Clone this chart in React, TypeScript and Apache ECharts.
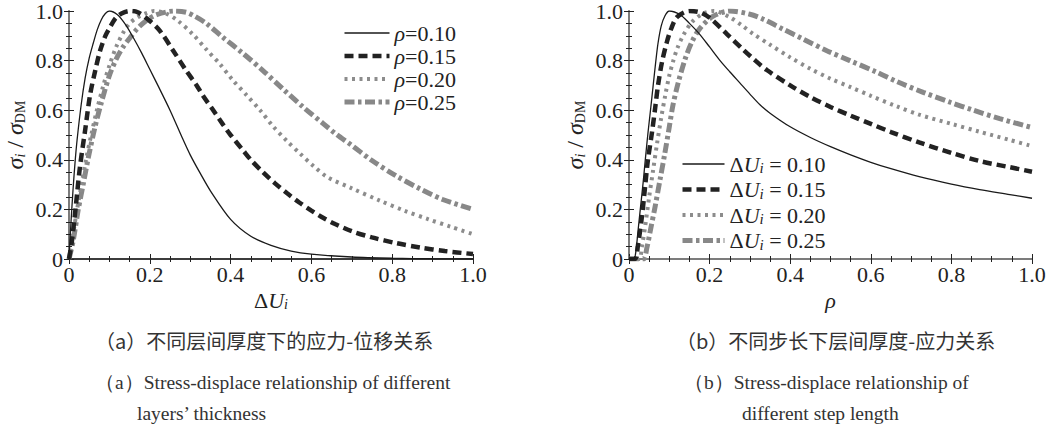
import React, { useEffect, useRef } from 'react';
import * as echarts from 'echarts';

// ---------- data ----------
const rhoValues = ['0.10', '0.15', '0.20', '0.25'];
const duValues = ['0.10', '0.15', '0.20', '0.25'];
const xTicks = [0, 0.2, 0.4, 0.6, 0.8, 1.0];

// (a) stress vs displacement ΔU_i, for different ρ
const aRho10: [number, number][] = [
  [0, 0], [0.005, 0.15], [0.01, 0.28], [0.015, 0.39], [0.02, 0.48], [0.03, 0.62], [0.04, 0.73],
  [0.05, 0.81], [0.06, 0.87], [0.07, 0.925], [0.08, 0.965], [0.09, 0.99], [0.1, 1.0], [0.12, 0.985],
  [0.14, 0.945], [0.16, 0.89], [0.18, 0.83], [0.2, 0.765], [0.22, 0.7], [0.25, 0.6], [0.28, 0.49],
  [0.3, 0.42], [0.325, 0.345], [0.35, 0.275], [0.4, 0.16], [0.45, 0.092], [0.5, 0.055], [0.55, 0.032],
  [0.6, 0.02], [0.7, 0.008], [0.8, 0.003], [0.9, 0.001], [1.0, 0],
];
const aRho15: [number, number][] = [
  [0, 0], [0.007, 0.07], [0.016, 0.2], [0.027, 0.37], [0.04, 0.52], [0.052, 0.66], [0.065, 0.76],
  [0.077, 0.84], [0.09, 0.9], [0.1, 0.93], [0.115, 0.97], [0.13, 0.99], [0.15, 1.0], [0.17, 0.995],
  [0.2, 0.96], [0.225, 0.92], [0.258, 0.84], [0.29, 0.76], [0.316, 0.7], [0.333, 0.655], [0.357, 0.6],
  [0.38, 0.545], [0.4, 0.5], [0.43, 0.44], [0.45, 0.4], [0.48, 0.35], [0.51, 0.305], [0.54, 0.265],
  [0.57, 0.228], [0.6, 0.195], [0.63, 0.165], [0.66, 0.14], [0.7, 0.112], [0.75, 0.087], [0.81, 0.064],
  [0.87, 0.046], [0.93, 0.032], [1.0, 0.02],
];
const aRho20: [number, number][] = [
  [0, 0], [0.01, 0.1], [0.02, 0.2], [0.03, 0.29], [0.042, 0.4], [0.055, 0.5], [0.069, 0.6],
  [0.085, 0.7], [0.1, 0.78], [0.118, 0.86], [0.135, 0.915], [0.15, 0.95], [0.17, 0.975], [0.19, 0.99],
  [0.21, 1.0], [0.24, 0.99], [0.27, 0.96], [0.307, 0.905], [0.34, 0.845], [0.374, 0.785], [0.406, 0.72],
  [0.44, 0.66], [0.473, 0.6], [0.505, 0.535], [0.54, 0.475], [0.572, 0.425], [0.605, 0.375],
  [0.64, 0.33], [0.7, 0.285], [0.77, 0.235], [0.83, 0.195], [0.89, 0.16], [0.945, 0.13], [1.0, 0.1],
];
const aRho25: [number, number][] = [
  [0, 0], [0.01, 0.07], [0.023, 0.2], [0.035, 0.3], [0.048, 0.41], [0.064, 0.53], [0.08, 0.63],
  [0.1, 0.74], [0.118, 0.81], [0.134, 0.855], [0.15, 0.89], [0.167, 0.925], [0.19, 0.96], [0.217, 0.985],
  [0.26, 1.0], [0.29, 0.995], [0.31, 0.98], [0.34, 0.95], [0.38, 0.895], [0.43, 0.83], [0.48, 0.76],
  [0.53, 0.685], [0.58, 0.612], [0.63, 0.545], [0.66, 0.505], [0.7, 0.458], [0.75, 0.397], [0.81, 0.335],
  [0.87, 0.282], [0.925, 0.24], [1.0, 0.2],
];

// (b) stress vs layer thickness ρ, for different step ΔU_i
const bDu10: [number, number][] = [
  [0, 0], [0.012, 0], [0.017, 0.03], [0.022, 0.107], [0.028, 0.2], [0.035, 0.307], [0.041, 0.41],
  [0.047, 0.507], [0.054, 0.61], [0.06, 0.7], [0.066, 0.79], [0.072, 0.87], [0.08, 0.94], [0.089, 0.98],
  [0.1, 1.0], [0.127, 0.985], [0.15, 0.95], [0.176, 0.905], [0.2, 0.855], [0.226, 0.8], [0.25, 0.755],
  [0.275, 0.71], [0.3, 0.665], [0.325, 0.622], [0.35, 0.588], [0.4, 0.533], [0.45, 0.49], [0.5, 0.453],
  [0.55, 0.42], [0.6, 0.39], [0.65, 0.364], [0.72, 0.332], [0.8, 0.302], [0.87, 0.28], [0.945, 0.26],
  [1.0, 0.245],
];
const bDu15: [number, number][] = [
  [0, 0], [0.015, 0], [0.022, 0.053], [0.032, 0.17], [0.04, 0.293], [0.047, 0.4], [0.057, 0.51],
  [0.065, 0.61], [0.072, 0.7], [0.082, 0.795], [0.094, 0.875], [0.105, 0.93], [0.119, 0.975], [0.15, 1.0],
  [0.175, 0.995], [0.2, 0.973], [0.243, 0.907], [0.283, 0.845], [0.31, 0.805], [0.342, 0.762], [0.4, 0.7],
  [0.45, 0.653], [0.5, 0.613], [0.55, 0.578], [0.6, 0.545], [0.65, 0.512], [0.72, 0.47], [0.8, 0.428],
  [0.87, 0.395], [0.945, 0.37], [1.0, 0.352],
];
const bDu20: [number, number][] = [
  [0, 0], [0.025, 0], [0.032, 0.05], [0.04, 0.13], [0.05, 0.25], [0.06, 0.36], [0.07, 0.47],
  [0.08, 0.57], [0.09, 0.66], [0.1, 0.74], [0.11, 0.8], [0.12, 0.85], [0.134, 0.9], [0.156, 0.955],
  [0.184, 0.99], [0.21, 1.0], [0.25, 0.975], [0.28, 0.942], [0.308, 0.908], [0.35, 0.864], [0.4, 0.813],
  [0.45, 0.767], [0.5, 0.727], [0.55, 0.693], [0.6, 0.658], [0.665, 0.615], [0.72, 0.582], [0.8, 0.545],
  [0.87, 0.513], [0.945, 0.48], [1.0, 0.455],
];
const bDu25: [number, number][] = [
  [0, 0], [0.035, 0], [0.045, 0.05], [0.052, 0.107], [0.065, 0.213], [0.077, 0.32], [0.089, 0.427],
  [0.1, 0.533], [0.109, 0.62], [0.122, 0.71], [0.139, 0.805], [0.156, 0.875], [0.176, 0.93],
  [0.208, 0.978], [0.25, 1.0], [0.3, 0.987], [0.333, 0.967], [0.382, 0.927], [0.432, 0.887],
  [0.491, 0.84], [0.548, 0.8], [0.615, 0.753], [0.665, 0.715], [0.73, 0.672], [0.797, 0.632],
  [0.854, 0.6], [0.92, 0.566], [1.0, 0.53],
];

const captionA = ['（a）不同层间厚度下的应力-位移关系', '（a）Stress-displace relationship of different', 'layers’ thickness'];
const captionB = ['（b）不同步长下层间厚度-应力关系', '（b）Stress-displace relationship of', 'different step length'];

// ---------- styles ----------
const SERIF = "'Liberation Serif', 'DejaVu Serif', serif";
const CJK = "'Noto Sans CJK SC', sans-serif";
const TXT = '#222';
const lineStyles: any[] = [
  { color: '#1a1a1a', width: 1.3, type: 'solid' },
  { color: '#222222', width: 4.5, type: [9, 5], cap: 'butt' },
  { color: '#8c8c8c', width: 4, type: [3, 4.5], cap: 'butt' },
  { color: '#888888', width: 5, type: [10, 3.5, 3.5, 3.5], cap: 'butt' },
];

const labelFmt = (v: number) => (v === 0 ? '0' : v.toFixed(1));

const tickCommon = {
  splitLine: { show: false },
  axisTick: { inside: true, length: 5, lineStyle: { color: '#222', width: 1 } },
  minorTick: { show: true, splitNumber: 4, length: 3, lineStyle: { color: '#222', width: 1 } },
};

function xAxes(gridIndex: number, name: string, rich: any, topColor: string) {
  const common = { type: 'value', gridIndex, min: 0, max: 1, interval: 0.2, ...tickCommon };
  return [
    {
      ...common, position: 'bottom',
      axisLine: { lineStyle: { color: '#222', width: 1.6 } },
      axisLabel: { formatter: labelFmt, fontFamily: SERIF, fontSize: 22, color: TXT, margin: 4 },
      name, nameLocation: 'middle', nameGap: 25,
      nameTextStyle: { fontFamily: SERIF, fontSize: 22, color: TXT, rich },
    },
    {
      ...common, position: 'top',
      axisLine: { lineStyle: { color: topColor, width: 1.6 } },
      axisLabel: { show: false },
    },
  ];
}

function yAxes(gridIndex: number, rightColor: string) {
  const common = { type: 'value', gridIndex, min: 0, max: 1, interval: 0.2, ...tickCommon };
  const yRich = {
    it: { fontFamily: SERIF, fontStyle: 'italic', fontSize: 24, color: TXT },
    n: { fontFamily: SERIF, fontSize: 24, color: TXT },
    si: { fontFamily: SERIF, fontStyle: 'italic', fontSize: 14, color: TXT, verticalAlign: 'bottom', padding: [10, 0, 0, 0] },
    sd: { fontFamily: SERIF, fontSize: 14, color: TXT, verticalAlign: 'bottom', padding: [10, 0, 0, 0] },
  };
  return [
    {
      ...common, position: 'left',
      axisLine: { lineStyle: { color: '#222', width: 1.6 } },
      axisLabel: { formatter: labelFmt, fontFamily: SERIF, fontSize: 22, color: TXT, margin: 6 },
      name: '{it|σ}{si|i}{n| / }{it|σ}{sd|DM}', nameLocation: 'middle', nameGap: 42, nameRotate: 90,
      nameTextStyle: { fontFamily: SERIF, fontSize: 24, color: TXT, rich: yRich },
    },
    {
      ...common, position: 'right',
      axisLine: { lineStyle: { color: rightColor, width: 1.6 } },
      axisLabel: { show: false },
    },
  ];
}

const App: React.FC = () => {
  const ref = useRef<HTMLDivElement>(null);

  useEffect(() => {
    if (!ref.current) return;
    const chart = echarts.init(ref.current, undefined, { renderer: 'svg' });

    const aData = [aRho10, aRho15, aRho20, aRho25];
    const bData = [bDu10, bDu15, bDu20, bDu25];
    const aNames = rhoValues.map((v) => `ρ=${v}`);
    const bNames = duValues.map((v) => `ΔU=${v}`);

    const series: any[] = [];
    aData.forEach((d, i) => {
      series.push({
        type: 'line', name: aNames[i], xAxisIndex: 0, yAxisIndex: 0, data: d,
        symbol: 'none', showSymbol: false, smooth: 0.3, clip: true,
        color: lineStyles[i].color, lineStyle: lineStyles[i], z: 10 - i,
      });
    });
    bData.forEach((d, i) => {
      series.push({
        type: 'line', name: bNames[i], xAxisIndex: 2, yAxisIndex: 2, data: d,
        symbol: 'none', showSymbol: false, smooth: 0.3, clip: true,
        color: lineStyles[i].color, lineStyle: lineStyles[i], z: 10 - i,
      });
    });

    const legendRichA = {
      it: { fontFamily: SERIF, fontStyle: 'italic', fontSize: 22, color: TXT },
      n: { fontFamily: SERIF, fontSize: 22, color: TXT },
    };
    const legendRichB = {
      it: { fontFamily: SERIF, fontStyle: 'italic', fontSize: 22, color: TXT },
      n: { fontFamily: SERIF, fontSize: 22, color: TXT },
      sub: { fontFamily: SERIF, fontStyle: 'italic', fontSize: 15, color: TXT, verticalAlign: 'bottom', padding: [8, 0, 0, 0] },
    };

    const xRich = {
      n: { fontFamily: SERIF, fontSize: 22, color: TXT },
      it: { fontFamily: SERIF, fontStyle: 'italic', fontSize: 22, color: TXT },
      sub: { fontFamily: SERIF, fontStyle: 'italic', fontSize: 14, color: TXT, verticalAlign: 'bottom', padding: [8, 0, 0, 0] },
    };

    const captionText = (x: number, y: number, text: string, font: string, size: number) => ({
      type: 'text', x, y,
      style: {
        text, fontFamily: font, fontSize: size, fill: '#333',
        align: 'left', verticalAlign: 'middle', textAlign: 'left', textVerticalAlign: 'middle',
      },
    });

    const hiddenSymbol = { color: 'rgba(0,0,0,0)', borderWidth: 0, opacity: 0 };
    const legendItems = (names: string[]) =>
      names.map((name, i) => ({
        name,
        itemStyle: hiddenSymbol,
        lineStyle: {
          color: lineStyles[i].color, width: lineStyles[i].width, type: lineStyles[i].type,
          cap: 'butt', opacity: 1,
        },
      }));

    chart.setOption({
      animation: false,
      backgroundColor: '#ffffff',
      textStyle: { fontFamily: SERIF },
      grid: [
        { left: 69, top: 10, width: 404, height: 249 },
        { left: 629, top: 10, width: 403, height: 249 },
      ],
      xAxis: [
        ...xAxes(0, '{n|Δ}{it|U}{sub|i}', xRich, '#333'),
        ...xAxes(1, '{it|ρ}', xRich, '#888'),
      ],
      yAxis: [
        ...yAxes(0, '#888'),
        ...yAxes(1, '#888'),
      ],
      legend: [
        {
          data: legendItems(aNames), orient: 'vertical', left: 337, top: 17,
          itemWidth: 45, itemHeight: 14, itemGap: 1, selectedMode: false,
          formatter: (name: string) => `{it|ρ}{n|=${name.split('=')[1]}}`,
          textStyle: { fontFamily: SERIF, fontSize: 22, rich: legendRichA },
        },
        {
          data: legendItems(bNames), orient: 'vertical', left: 675, top: 148,
          itemWidth: 42, itemHeight: 14, itemGap: 3, selectedMode: false,
          formatter: (name: string) => `{n|Δ}{it|U}{sub|i}{n| = ${name.split('=')[1]}}`,
          textStyle: { fontFamily: SERIF, fontSize: 22, rich: legendRichB },
        },
      ],
      series,
      graphic: [
        captionText(95, 340, captionA[0], CJK, 20),
        captionText(95, 382, captionA[1], SERIF, 19.5),
        captionText(137, 413, captionA[2], SERIF, 19.5),
        captionText(676, 340, captionB[0], CJK, 20),
        captionText(684, 382, captionB[1], SERIF, 19.5),
        captionText(742, 413, captionB[2], SERIF, 19.5),
      ],
    });

    return () => chart.dispose();
  }, []);

  return (
    <div
      ref={ref}
      style={{ position: 'fixed', left: 0, top: 0, width: 1058, height: 434, background: '#fff' }}
    />
  );
};

export default App;
